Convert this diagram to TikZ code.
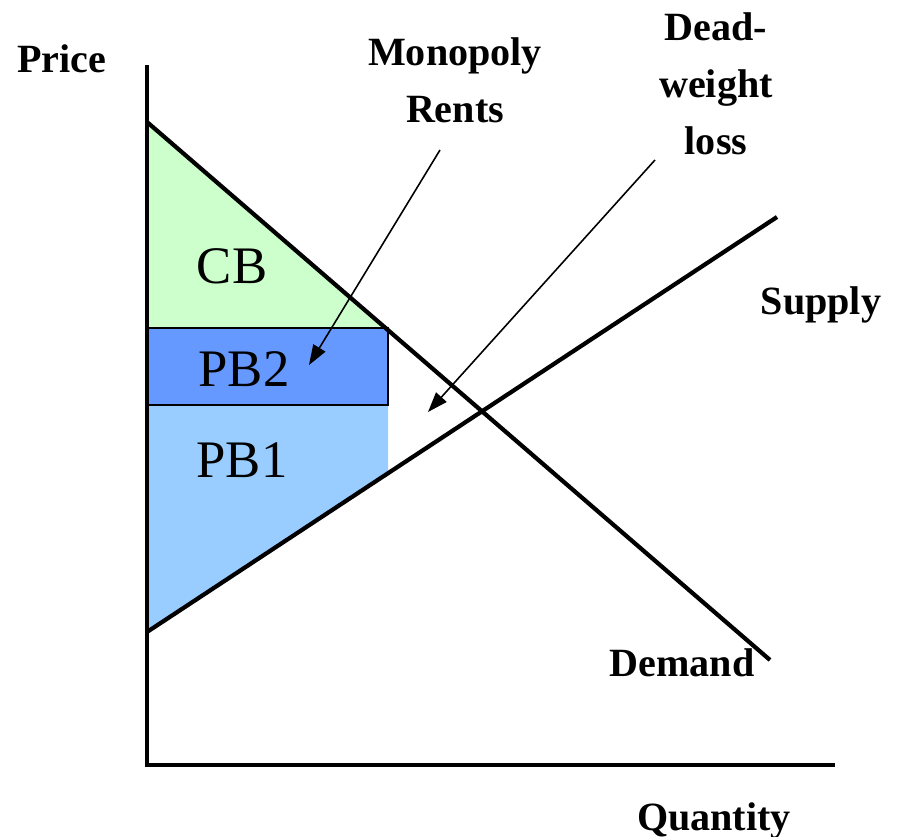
\documentclass[tikz,border=0pt]{standalone}
\usepackage{fontspec}
\setmainfont{Liberation Serif}
\usetikzlibrary{arrows.meta}

\definecolor{cbgreen}{HTML}{CCFFCC}
\definecolor{pbdark}{HTML}{6699FF}
\definecolor{pblight}{HTML}{99CCFF}

\tikzset{
    curve/.style={line width=1.2pt},
    lbl/.style={font=\bfseries\fontsize{11.4}{16.2}\selectfont, inner sep=0pt, align=center},
    area/.style={font=\fontsize{15}{18}\selectfont, inner sep=0pt},
    pointer/.style={line width=0.45pt, -{Triangle[length=0.2cm,width=0.14cm]}}
}

\begin{document}
\begin{tikzpicture}[x=0.01cm,y=-0.01cm]
    \useasboundingbox (0,0) rectangle (897,837);

    % 定义点变量
    \coordinate (O) at (147,765);
    \coordinate (Ytop) at (147,65);
    \coordinate (Xend) at (835,765);
    \coordinate (D1) at (147,122);
    \coordinate (D2) at (770,660);
    \coordinate (S1) at (147,632);
    \coordinate (S2) at (777,217);
    \coordinate (P2) at (147,328);
    \coordinate (Q2) at (388,328);
    \coordinate (P1) at (147,405);
    \coordinate (Q1) at (388,405);
    \coordinate (R1) at (388,473);
    \coordinate (mr) at (440,150);
    \coordinate (mrtip) at (309,365);
    \coordinate (dw) at (655,160);
    \coordinate (dwtip) at (428,412);

    % 填充区域
    \fill[cbgreen] (D1) -- (Q2) -- (P2) -- cycle;
    \fill[pblight] (P1) -- (Q1) -- (R1) -- (S1) -- cycle;
    \draw[fill=pbdark, line width=0.45pt] (P2) rectangle (Q1);

    % 需求、供给与坐标轴
    \draw[curve] (D1) -- (D2);
    \draw[curve] (S1) -- (S2);
    \draw[curve] (Ytop) -- (O) -- (Xend);

    % 标注文字
    \node[lbl, anchor=base] (price) at (62,73) {Price};
    \node[lbl, anchor=north] (rents) at (455,37) {Monopoly\\Rents};
    \node[lbl, anchor=north] (dwl) at (716,12) {Dead-\\weight\\loss};
    \node[lbl, anchor=base] (supply) at (821,315) {Supply};
    \node[lbl, anchor=base] (demand) at (682,676) {Demand};
    \node[lbl, anchor=base] (quantity) at (714,830) {Quantity};
    \node[area, anchor=base] (cb) at (232,284) {CB};
    \node[area, anchor=base] (pb2) at (244,387) {PB2};
    \node[area, anchor=base] (pb1) at (242,478) {PB1};

    % 箭头
    \draw[pointer] (mr) -- (mrtip);
    \draw[pointer] (dw) -- (dwtip);

\end{tikzpicture}
\end{document}
